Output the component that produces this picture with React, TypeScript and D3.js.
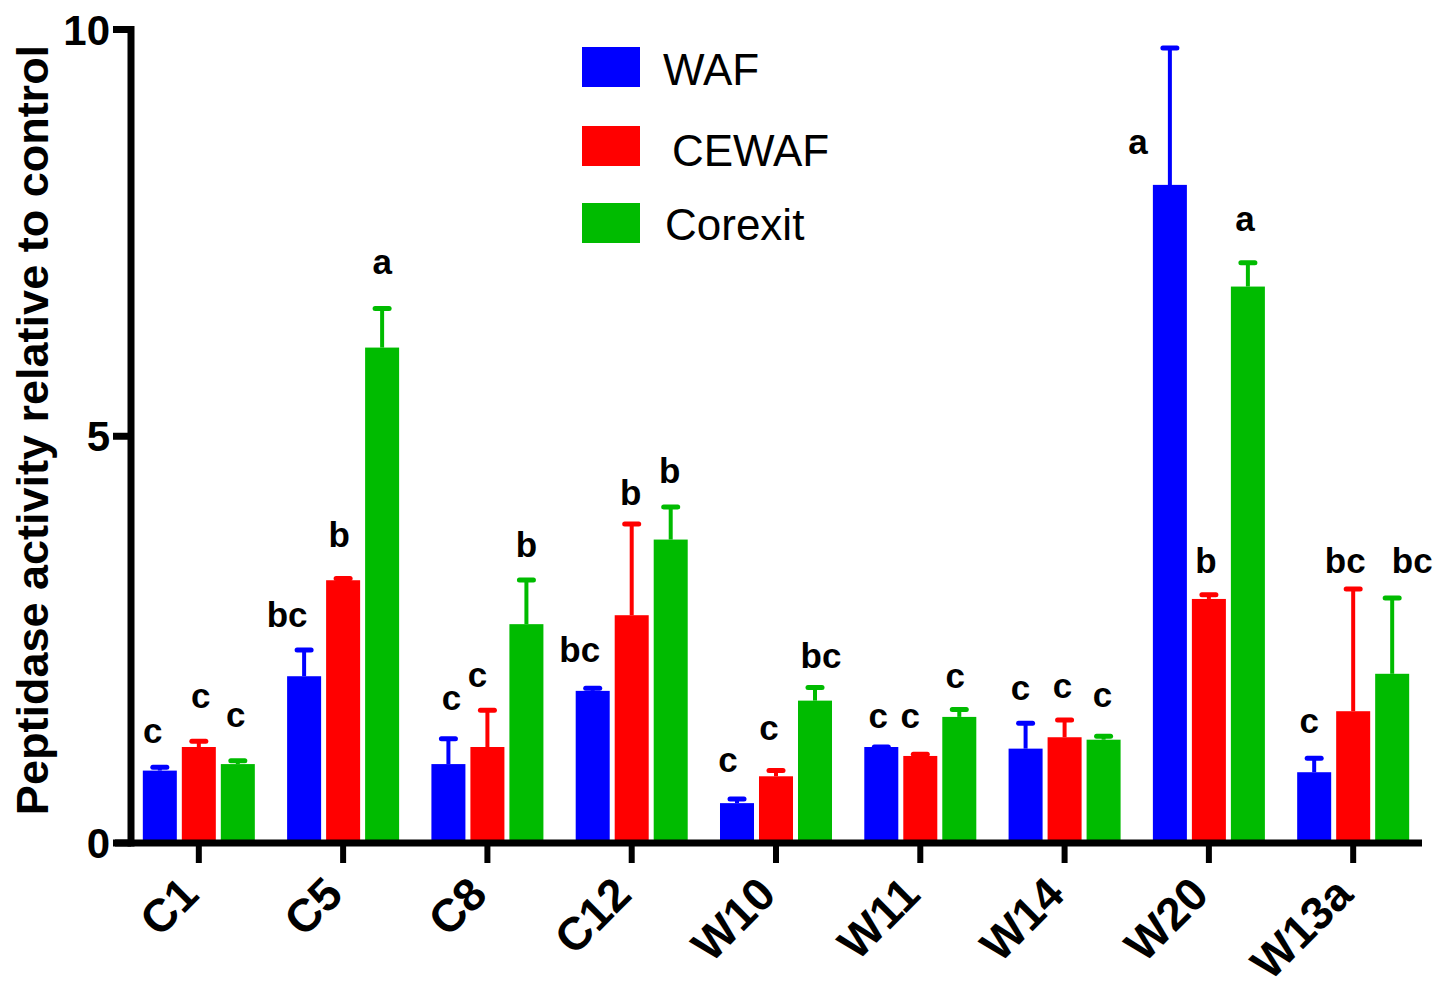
import React from "react";
import * as d3 from "d3";

const categories = ["C1", "C5", "C8", "C12", "W10", "W11", "W14", "W20", "W13a"];
const seriesNames = ["WAF", "CEWAF", "Corexit"];
const seriesColors = ["#0000FF", "#FF0000", "#00BB00"];

const wafValues = [0.89, 2.05, 0.97, 1.87, 0.49, 1.18, 1.16, 8.09, 0.87];
const cewafValues = [1.18, 3.23, 1.18, 2.8, 0.82, 1.07, 1.3, 3.0, 1.62];
const corexitValues = [0.97, 6.09, 2.69, 3.73, 1.75, 1.55, 1.27, 6.84, 2.08];

const wafErrors = [0.06, 0.34, 0.33, 0.05, 0.07, 0.02, 0.33, 1.7, 0.19];
const cewafErrors = [0.09, 0.04, 0.47, 1.14, 0.09, 0.04, 0.23, 0.07, 1.52];
const corexitErrors = [0.06, 0.5, 0.56, 0.42, 0.18, 0.11, 0.06, 0.31, 0.95];

const wafLetters = ["c", "bc", "c", "bc", "c", "c", "c", "a", "c"];
const cewafLetters = ["c", "b", "c", "b", "c", "c", "c", "b", "bc"];
const corexitLetters = ["c", "a", "b", "b", "bc", "c", "c", "a", "bc"];

// annotation baselines (data units) and horizontal nudges (px)
const wafLetterY = [1.23, 2.66, 1.64, 2.23, 0.87, 1.41, 1.76, 8.47, 1.35];
const cewafLetterY = [1.66, 3.64, 1.92, 4.16, 1.27, 1.41, 1.78, 3.32, 3.32];
const corexitLetterY = [1.43, 6.99, 3.52, 4.42, 2.15, 1.91, 1.67, 7.52, 3.32];
const wafLetterDx = [-7, -17, 3, -13, -9, -3, -5, -32, -5];
const cewafLetterDx = [2, -4, -10, -1, -7, -10, -2, -3, -8];
const corexitLetterDx = [-2, 0, 0, -1, 6, -4, -1, -3, 20];

const yTicks = [0, 5, 10];
const yTitle = "Peptidase activity relative to control";

const FONT = "'Liberation Sans', Arial, Helvetica, sans-serif";

export default function App() {
  const W = 1447;
  const H = 989;
  const y = d3.scaleLinear().domain([0, 10]).range([843, 29.5]);
  const x0 = d3
    .scaleBand<string>()
    .domain(categories)
    .range([131, 1421])
    .paddingInner(0.19)
    .paddingOuter(0.065);
  const bw = x0.bandwidth();
  const x1 = d3
    .scaleBand<string>()
    .domain(seriesNames)
    .range([bw / 2 - 58.5, bw / 2 + 58.5])
    .paddingInner(0.128)
    .paddingOuter(0.064);

  const values = [wafValues, cewafValues, corexitValues];
  const errors = [wafErrors, cewafErrors, corexitErrors];
  const letters = [wafLetters, cewafLetters, corexitLetters];
  const letterY = [wafLetterY, cewafLetterY, corexitLetterY];
  const letterDx = [wafLetterDx, cewafLetterDx, corexitLetterDx];

  const legendY = [47, 126, 203];
  const legendTextX = [663, 672, 665];
  const legendBase = [85, 166, 240];

  return (
    <div style={{ position: "absolute", left: 0, top: 0 }}>
      <svg width={W} height={H} style={{ display: "block", background: "#fff" }}>
        {/* bars */}
        {categories.map((c, i) =>
          seriesNames.map((s, k) => {
            const bx = (x0(c) as number) + (x1(s) as number);
            const v = values[k][i];
            return (
              <rect
                key={`b-${c}-${s}`}
                x={bx}
                y={y(v)}
                width={x1.bandwidth()}
                height={y(0) - y(v)}
                fill={seriesColors[k]}
              />
            );
          })
        )}
        {/* error bars */}
        {categories.map((c, i) =>
          seriesNames.map((s, k) => {
            const cx = (x0(c) as number) + (x1(s) as number) + x1.bandwidth() / 2;
            const v = values[k][i];
            const top = y(v + errors[k][i]);
            return (
              <g key={`e-${c}-${s}`} stroke={seriesColors[k]}>
                <line x1={cx} x2={cx} y1={y(v)} y2={top + 1} strokeWidth={4} />
                <line
                  x1={cx - 7}
                  x2={cx + 7}
                  y1={top + 1.5}
                  y2={top + 1.5}
                  strokeWidth={5}
                  strokeLinecap="round"
                />
              </g>
            );
          })
        )}
        {/* letters */}
        {categories.map((c, i) =>
          seriesNames.map((s, k) => {
            const cx = (x0(c) as number) + (x1(s) as number) + x1.bandwidth() / 2;
            return (
              <text
                key={`l-${c}-${s}`}
                x={cx + letterDx[k][i]}
                y={y(letterY[k][i])}
                textAnchor="middle"
                fontFamily={FONT}
                fontWeight="bold"
                fontSize={35}
                fill="#000"
              >
                {letters[k][i]}
              </text>
            );
          })
        )}
        {/* y axis */}
        <line x1={131} x2={131} y1={26} y2={846.5} stroke="#000" strokeWidth={7} />
        {yTicks.map((t) => (
          <g key={`yt-${t}`}>
            <line x1={113} x2={131} y1={y(t)} y2={y(t)} stroke="#000" strokeWidth={7} />
            <text
              x={110}
              y={y(t)}
              dy="0.36em"
              textAnchor="end"
              fontFamily={FONT}
              fontWeight="bold"
              fontSize={42}
              fill="#000"
            >
              {t}
            </text>
          </g>
        ))}
        {/* x axis */}
        <line x1={115} x2={1422} y1={843} y2={843} stroke="#000" strokeWidth={7} />
        {categories.map((c) => {
          const cx = (x0(c) as number) + bw / 2;
          return (
            <g key={`xt-${c}`}>
              <line x1={cx} x2={cx} y1={843} y2={863} stroke="#000" strokeWidth={6} />
              <text
                transform={`translate(${cx + 2},${897}) rotate(-45)`}
                textAnchor="end"
                fontFamily={FONT}
                fontWeight="bold"
                fontSize={46}
                fill="#000"
              >
                {c}
              </text>
            </g>
          );
        })}
        {/* y title */}
        <text
          transform={`translate(48,430) rotate(-90)`}
          textAnchor="middle"
          fontFamily={FONT}
          fontWeight="bold"
          fontSize={45}
          fill="#000"
        >
          {yTitle}
        </text>
        {/* legend */}
        {seriesNames.map((s, k) => (
          <g key={`lg-${s}`}>
            <rect x={582} y={legendY[k]} width={58} height={40} fill={seriesColors[k]} />
            <text
              x={legendTextX[k]}
              y={legendBase[k]}
              fontFamily={FONT}
              fontSize={44}
              fill="#000"
            >
              {s}
            </text>
          </g>
        ))}
      </svg>
    </div>
  );
}
